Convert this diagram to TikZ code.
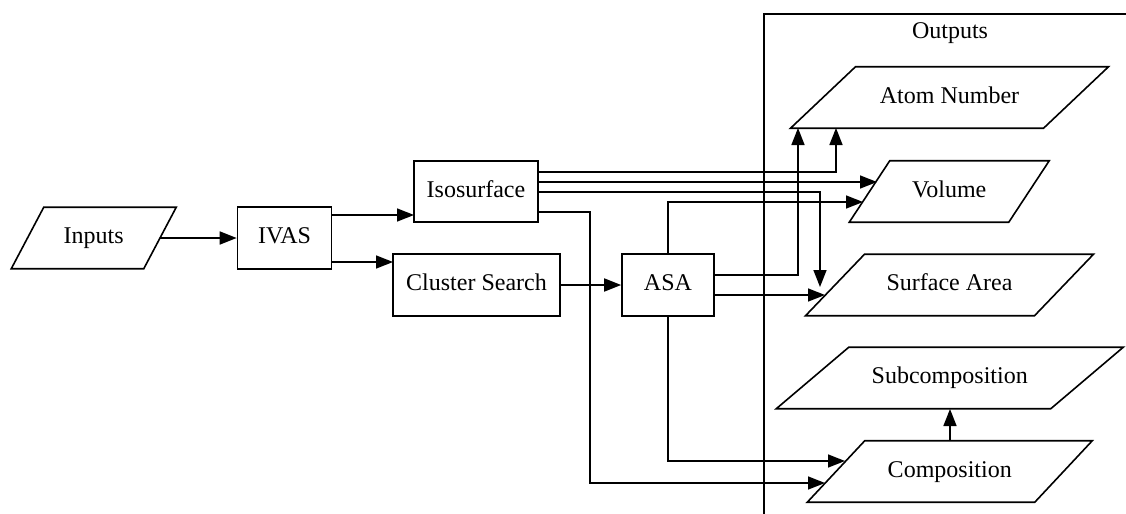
\documentclass[tikz,border=0pt]{standalone}
\usepackage{fontspec}
\setmainfont{Liberation Serif}
\usetikzlibrary{arrows.meta}
\tikzset{
  lbl/.style={inner sep=0pt, text height=8.6pt, text depth=2.8pt, font=\fontsize{12}{14}\selectfont},
  box/.style={draw, line width=0.8pt, inner sep=0pt, text height=8.6pt, text depth=2.8pt, minimum height=31pt, font=\fontsize{12}{14}\selectfont},
  shp/.style={draw, line width=0.8pt, line join=miter},
  arr/.style={line width=0.8pt, -{Triangle[length=8.5pt,width=6.5pt]}},
}
% name, cx, cy, top width, slant, text
\newcommand\pgram[6]{%
  \node[lbl] (#1) at (#2,#3) {#6};
  \draw[shp] ({#2-#4/2-#5/2},{#3+30.75}) -- ({#2+#4/2-#5/2},{#3+30.75})
    -- ({#2+#4/2+#5/2},{#3-30.75}) -- ({#2-#4/2+#5/2},{#3-30.75}) -- cycle;
}
\begin{document}
\begin{tikzpicture}[x=0.5pt,y=-0.5pt]
\useasboundingbox (0,0) rectangle (1126,514);

% Outputs cluster
\draw[line width=0.8pt] (764,514) -- (764,14) -- (1126,14);
\node[lbl] (outputs) at (950,33) {Outputs};

% input / process nodes
\pgram{inputs}{93.75}{238}{132.5}{32.5}{Inputs}
\node[box, minimum width=47pt] (ivas) at (284.5,238) {IVAS};
\node[box, minimum width=62pt, minimum height=30.5pt] (iso) at (476,191.5) {Isosurface};
\node[box, minimum width=83.5pt] (clus) at (476.5,285) {Cluster Search};
\node[box, minimum width=46pt] (asa) at (668,285) {ASA};

% outputs
\pgram{atom}{949.5}{97.5}{253}{65}{Atom Number}
\pgram{vol}{949.25}{191.5}{159.5}{40.5}{Volume}
\pgram{surf}{949.5}{285}{229}{59}{Surface Area}
\pgram{subc}{949.75}{378}{274.5}{72.5}{Subcomposition}
\pgram{comp}{949.75}{471.5}{227.5}{57.5}{Composition}

% end points on slanted borders
\coordinate (inE) at (160,238);
\coordinate (atomB1) at (836,128);
\coordinate (atomB2) at (798,128);
\coordinate (volW1) at (877,182);
\coordinate (volW2) at (863,202);
\coordinate (surfN) at (820,287);
\coordinate (surfW) at (825,295);
\coordinate (compW1) at (845,461);
\coordinate (compW2) at (825,483);
\coordinate (compN) at (950,441);
\coordinate (subcS) at (950,409);

% connectors
\draw[arr] (inE) -- (ivas.west);
\draw[arr] (331,215) -- (414,215);
\draw[arr] (331,262) -- (393,262);
\draw[arr] (clus.east) -- (asa.west);

\draw[arr] (538,172) -| (atomB1);
\draw[arr] (538,182) -- (volW1);
\draw[arr] (538,192) -| (surfN);
\draw[arr] (538,212) -- (590,212) |- (compW2);

\draw[arr] (714,275) -| (atomB2);
\draw[arr] (asa.north) |- (volW2);
\draw[arr] (714,295) -- (surfW);
\draw[arr] (asa.south) |- (compW1);

\draw[arr] (compN) -- (subcS);
\end{tikzpicture}
\end{document}
